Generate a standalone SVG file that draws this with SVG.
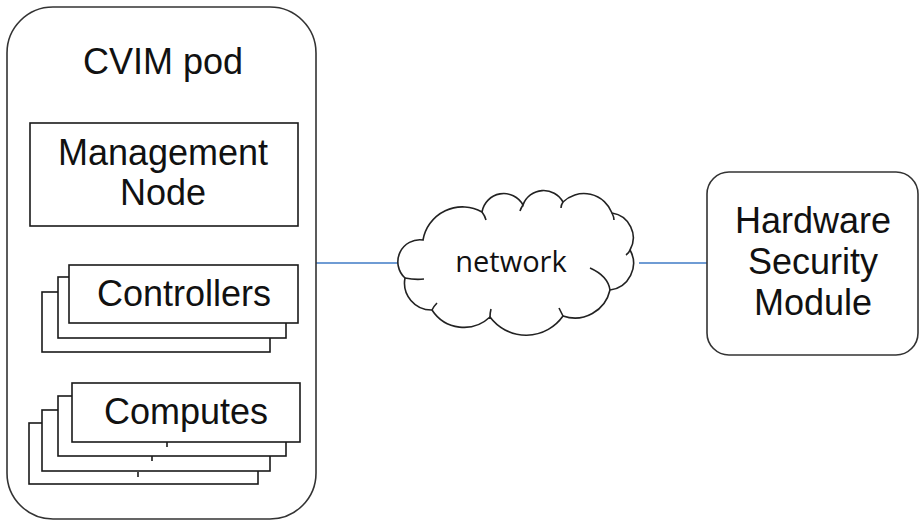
<svg xmlns="http://www.w3.org/2000/svg" width="920" height="522" viewBox="0 0 920 522">
<style>
.box{fill:#fff;stroke:#1a1a1a;stroke-width:1.6}
.pod{fill:#fff;stroke:#333;stroke-width:1.6}
.lbl{font-family:"Liberation Sans",Arial,Helvetica,sans-serif;fill:#111;text-anchor:middle;font-size:36px}
.conn{stroke:#3f7bc6;stroke-width:1.5;fill:none}
.cloud{fill:#fff;stroke:#222;stroke-width:1.6}
.curl{fill:none;stroke:#222;stroke-width:1.6}
</style>
<rect width="920" height="522" fill="#fff"/>
<g id="connectors">
<line class="conn" x1="316" y1="263" x2="400" y2="263"/>
<line class="conn" x1="639" y1="263" x2="707" y2="263"/>
</g>
<g id="cvim-pod">
<rect class="pod" x="7" y="7" width="309" height="512" rx="46" ry="46"/>
<text class="lbl" x="163" y="74">CVIM pod</text>
</g>
<g id="management-node">
<rect class="box" x="30" y="123" width="268" height="103"/>
<text class="lbl" x="163" y="165">Management</text>
<text class="lbl" x="163" y="205">Node</text>
</g>
<g id="controllers">
<rect class="box" x="42" y="292" width="228" height="60"/>
<rect class="box" x="58" y="277" width="228" height="61"/>
<rect class="box" x="69" y="265" width="229" height="58"/>
<text class="lbl" x="184" y="306">Controllers</text>
</g>
<g id="computes">
<rect class="box" x="29" y="423" width="229" height="61"/>
<line class="box" x1="138" y1="472" x2="138" y2="477"/>
<rect class="box" x="42" y="410" width="228" height="61"/>
<line class="box" x1="152" y1="456" x2="152" y2="461"/>
<rect class="box" x="58" y="396" width="228" height="60"/>
<line class="box" x1="167" y1="442" x2="167" y2="447"/>
<rect class="box" x="72" y="383" width="228" height="59"/>
<text class="lbl" x="186" y="424">Computes</text>
</g>
<g id="network">
<path class="cloud" d="M423,240 A40,40 0 0 1 482,212 A22,22 0 0 1 523,205 A22,22 0 0 1 563,202 A30,30 0 0 1 612,213 A25,25 0 0 1 630,250 A27,27 0 0 1 610,290 A36,36 0 0 1 563,316 A45,45 0 0 1 490,317 A38,38 0 0 1 432,310 A27,27 0 0 1 405,278 A22,22 0 0 1 423,240 Z"/>
<path class="curl" d="M482,212 Q485,216 486,220 M523,205 Q521,208 520,211 M563,202 Q561,205 561,208 M612,213 Q614,217 614,220 M630,250 Q629,253 626,255 M590,268 Q608,276 610,290 M405,278 Q415,280 424,279 M432,310 Q434,306 437,303 M490,317 Q490,313 491,309 M563,316 Q561,312 559,308"/>
<text x="511" y="272" font-family="'Open Sans','Liberation Sans',sans-serif" font-size="29" fill="#111" text-anchor="middle">network</text>
</g>
<g id="hsm">
<rect class="pod" x="707" y="172" width="211" height="183" rx="22" ry="22"/>
<text class="lbl" x="813" y="233">Hardware</text>
<text class="lbl" x="813" y="274">Security</text>
<text class="lbl" x="813" y="315">Module</text>
</g>
</svg>
